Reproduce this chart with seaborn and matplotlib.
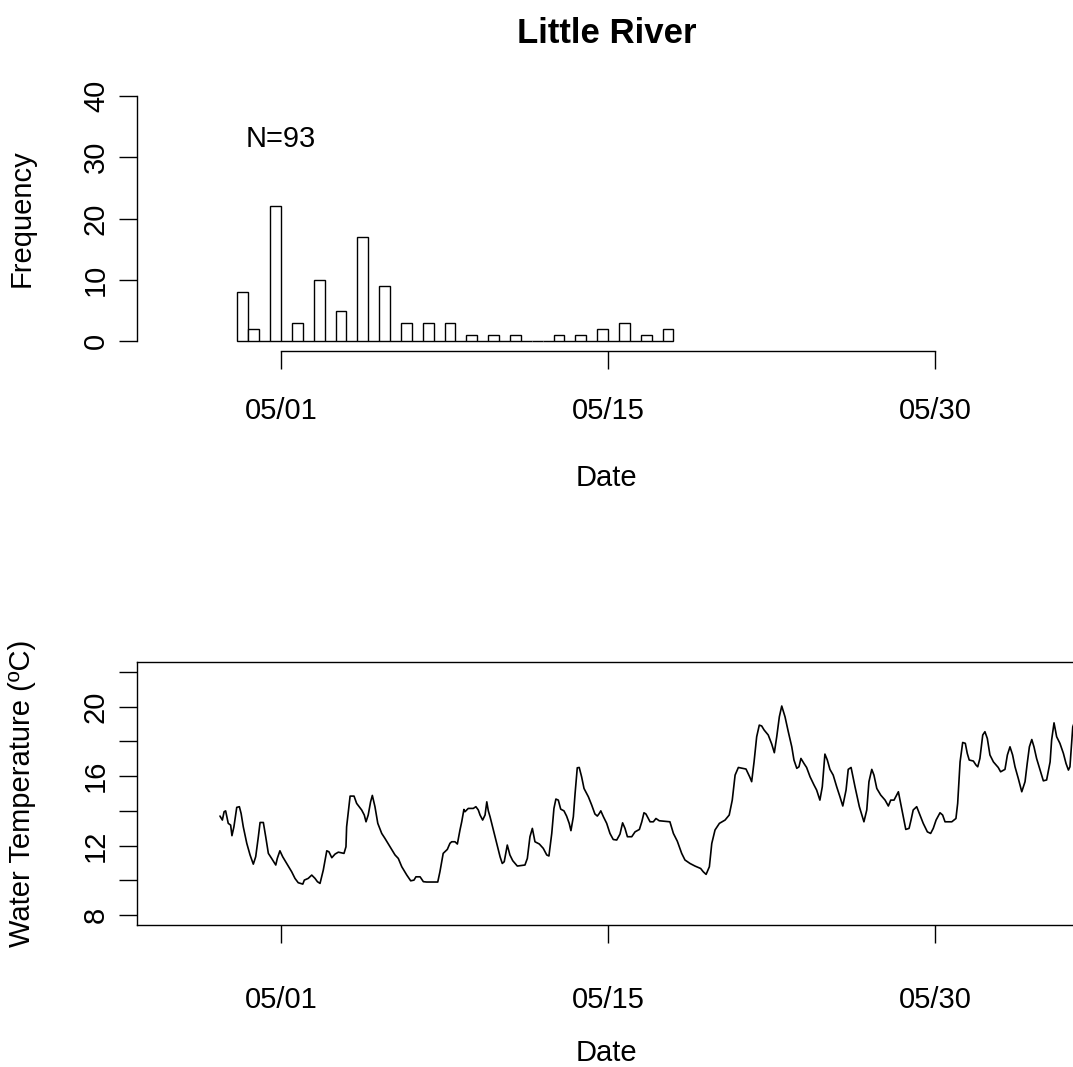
import numpy as np
import pandas as pd
import matplotlib
matplotlib.use('Agg')
import matplotlib.pyplot as plt
import seaborn as sns

# histogram counts per half-day bin, first bin starts 2 days before 05/01
hist_counts = [8, 2, 0, 22, 0, 3, 0, 10, 0, 5, 0, 17, 0, 9, 0, 3, 0, 3, 0, 3,
               0, 1, 0, 1, 0, 1, 0, 0, 0, 1, 0, 1, 0, 2, 0, 3, 0, 1, 0, 2]
hist_start = -2.0
bin_width = 0.5
n_label = 'N=93'

# date axis (days since 05/01)
tick_days = [0, 15, 30]
tick_labels = ['05/01', '05/15', '05/30']

# water temperature trace
day = [-2.80, -2.69, -2.61, -2.54, -2.42, -2.31, -2.25, -2.16, -2.03, -1.91,
       -1.83, -1.73, -1.57, -1.42, -1.27, -1.16, -1.04, -0.96, -0.81, -0.70,
       -0.58, -0.43, -0.24, -0.17, -0.05, 0.08, 0.26, 0.49, 0.64, 0.79,
       1.00, 1.07, 1.25, 1.41, 1.56, 1.67, 1.79, 1.94, 2.10, 2.20,
       2.33, 2.48, 2.63, 2.78, 2.89, 2.98, 3.01, 3.17, 3.35, 3.47,
       3.70, 3.82, 3.90, 4.00, 4.11, 4.19, 4.31, 4.44, 4.62, 4.77,
       5.00, 5.23, 5.38, 5.54, 5.77, 5.95, 6.10, 6.19, 6.38, 6.53,
       6.68, 7.19, 7.29, 7.44, 7.63, 7.75, 7.83, 7.98, 8.09, 8.21,
       8.29, 8.39, 8.44, 8.59, 8.82, 8.94, 9.05, 9.13, 9.25, 9.36,
       9.44, 9.51, 9.59, 9.74, 9.89, 10.05, 10.15, 10.24, 10.38, 10.50,
       10.63, 10.84, 11.19, 11.30, 11.42, 11.53, 11.65, 11.85, 12.03, 12.19,
       12.29, 12.42, 12.52, 12.61, 12.72, 12.83, 12.98, 13.10, 13.22, 13.30,
       13.41, 13.49, 13.59, 13.68, 13.79, 13.90, 14.10, 14.25, 14.40, 14.51,
       14.60, 14.67, 14.79, 14.94, 15.09, 15.24, 15.40, 15.55, 15.67, 15.78,
       15.89, 16.09, 16.24, 16.44, 16.55, 16.65, 16.74, 16.93, 17.08, 17.20,
       17.35, 17.84, 18.00, 18.18, 18.38, 18.53, 18.76, 18.99, 19.25, 19.37,
       19.50, 19.65, 19.76, 19.91, 20.11, 20.37, 20.56, 20.70, 20.83, 20.98,
       21.33, 21.51, 21.59, 21.70, 21.82, 21.94, 22.05, 22.16, 22.35, 22.51,
       22.63, 22.74, 22.86, 22.97, 23.12, 23.27, 23.43, 23.53, 23.66, 23.76,
       23.85, 23.99, 24.11, 24.27, 24.45, 24.57, 24.72, 24.83, 24.95, 25.06,
       25.18, 25.33, 25.49, 25.64, 25.77, 25.92, 26.02, 26.15, 26.33, 26.53,
       26.74, 26.87, 26.97, 27.10, 27.20, 27.33, 27.51, 27.71, 27.86, 27.97,
       28.12, 28.32, 28.44, 28.55, 28.66, 28.81, 28.90, 29.00, 29.16, 29.31,
       29.46, 29.65, 29.80, 29.92, 30.05, 30.23, 30.35, 30.46, 30.77, 30.96,
       31.04, 31.15, 31.27, 31.39, 31.48, 31.57, 31.76, 31.88, 31.96, 32.06,
       32.19, 32.29, 32.40, 32.52, 32.68, 32.90, 33.01, 33.21, 33.32, 33.44,
       33.56, 33.67, 33.82, 33.98, 34.13, 34.23, 34.33, 34.44, 34.54, 34.66,
       34.82, 34.97, 35.12, 35.28, 35.35, 35.46, 35.58, 35.73, 35.89, 36.01,
       36.12, 36.19, 36.32, 36.45]
temp = [13.70, 13.47, 13.95, 14.00, 13.28, 13.18, 12.57, 13.08, 14.20, 14.24,
        13.85, 13.08, 12.13, 11.46, 10.93, 11.36, 12.50, 13.33, 13.33, 12.50,
        11.55, 11.26, 10.88, 11.26, 11.70, 11.35, 10.97, 10.49, 10.11, 9.86,
        9.78, 10.01, 10.11, 10.30, 10.11, 9.92, 9.82, 10.59, 11.70, 11.64,
        11.30, 11.51, 11.62, 11.58, 11.55, 11.93, 13.08, 14.85, 14.85, 14.43,
        14.05, 13.76, 13.37, 13.76, 14.52, 14.89, 14.24, 13.28, 12.70, 12.41,
        11.93, 11.46, 11.26, 10.78, 10.30, 9.97, 10.01, 10.20, 10.20, 9.92,
        9.90, 9.90, 10.49, 11.55, 11.78, 12.13, 12.22, 12.22, 12.09, 12.90,
        13.37, 14.08, 13.95, 14.14, 14.14, 14.24, 14.05, 13.76, 13.47, 13.76,
        14.52, 14.00, 13.66, 12.90, 12.12, 11.35, 10.97, 11.07, 12.03, 11.46,
        11.13, 10.82, 10.88, 11.26, 12.51, 12.99, 12.22, 12.09, 11.84, 11.46,
        11.40, 12.70, 14.14, 14.68, 14.62, 14.10, 14.00, 13.70, 13.28, 12.86,
        13.66, 15.00, 16.48, 16.50, 15.96, 15.29, 14.81, 14.34, 13.82, 13.70,
        13.85, 14.00, 13.66, 13.28, 12.70, 12.35, 12.32, 12.66, 13.31, 12.99,
        12.51, 12.51, 12.79, 12.93, 13.37, 13.89, 13.82, 13.37, 13.37, 13.56,
        13.43, 13.37, 12.70, 12.25, 11.55, 11.17, 10.97, 10.82, 10.68, 10.49,
        10.34, 10.78, 12.12, 12.90, 13.28, 13.47, 13.76, 14.62, 16.06, 16.50,
        16.41, 15.93, 15.68, 16.82, 18.27, 18.94, 18.89, 18.66, 18.37, 17.85,
        17.35, 18.27, 19.42, 20.04, 19.42, 18.56, 17.69, 16.93, 16.45, 16.54,
        17.02, 16.73, 16.50, 15.96, 15.49, 15.20, 14.62, 15.39, 17.27, 16.93,
        16.39, 16.06, 15.39, 14.81, 14.28, 15.20, 16.39, 16.50, 15.39, 14.24,
        13.37, 14.05, 15.68, 16.39, 16.06, 15.29, 14.91, 14.62, 14.28, 14.62,
        14.62, 15.10, 14.34, 13.66, 12.93, 12.99, 13.47, 14.05, 14.24, 13.76,
        13.28, 12.79, 12.70, 12.99, 13.47, 13.89, 13.76, 13.37, 13.37, 13.56,
        14.43, 16.82, 17.94, 17.89, 17.31, 16.93, 16.87, 16.64, 16.54, 17.02,
        18.37, 18.56, 18.17, 17.22, 16.82, 16.50, 16.25, 16.39, 17.22, 17.69,
        17.22, 16.54, 15.87, 15.10, 15.68, 16.73, 17.69, 18.11, 17.69, 17.02,
        16.35, 15.73, 15.78, 16.82, 18.08, 19.07, 18.27, 17.89, 17.31, 16.73,
        16.35, 16.54, 18.84, 19.30]

temp_ticks = [8, 10, 12, 14, 16, 18, 20, 22]
temp_labels = ['8', '', '12', '', '16', '', '20', '']
freq_ticks = [0, 10, 20, 30, 40]

sns.set_style('ticks', {'axes.edgecolor': 'black', 'xtick.color': 'black',
                        'ytick.color': 'black', 'text.color': 'black',
                        'axes.labelcolor': 'black'})
plt.rcParams['font.family'] = ['Liberation Sans', 'DejaVu Sans']

W, H = 1073, 1067
fig = plt.figure(figsize=(W / 100, H / 100), dpi=100)
left, right = 137, 1076
ax1 = fig.add_axes([left / W, 1 - 351 / H, (right - left) / W, 265 / H])
ax2 = fig.add_axes([left / W, 1 - 925 / H, (right - left) / W, 263 / H])

xlim = ((left - 281) / 21.8, (right - 281) / 21.8)

# top: histogram (one observation per count, placed at its bin centre)
n_bins = len(hist_counts)
mids = hist_start + bin_width * (np.arange(n_bins) + 0.5)
obs = pd.DataFrame({'day': np.repeat(mids, hist_counts)})
sns.histplot(data=obs, x='day', binwidth=bin_width,
             binrange=(hist_start, hist_start + bin_width * n_bins),
             color='white', edgecolor='black', linewidth=1.0, alpha=1, ax=ax1)
ax1.set_xlim(xlim)
ax1.set_ylim(-1.6, 41.6)
ax1.spines['top'].set_visible(False)
ax1.spines['right'].set_visible(False)
ax1.spines['left'].set_bounds(0, 40)
ax1.spines['bottom'].set_bounds(0, 30)
ax1.set_xticks(tick_days, tick_labels)
ax1.set_yticks(freq_ticks, [str(v) for v in freq_ticks])
ax1.text(0, 33, n_label, ha='center', va='center', fontsize=21)
ax1.set_title('Little River', fontsize=25, fontweight='bold', pad=31)

# bottom: water temperature
temp_df = pd.DataFrame({'day': day, 'temp': temp})
sns.lineplot(data=temp_df, x='day', y='temp', color='black', linewidth=1.2,
             estimator=None, sort=False, ax=ax2)
ax2.set_xlim(xlim)
ax2.set_ylim(7.424, 22.576)
ax2.set_xticks(tick_days, tick_labels)
ax2.set_yticks(temp_ticks, temp_labels)

for ax in (ax1, ax2):
    for s in ax.spines.values():
        s.set_linewidth(1.0)
    ax.tick_params(direction='out', length=13, width=1.0, labelsize=21)
    ax.tick_params(axis='y', pad=6.5, labelrotation=90)
    plt.setp(ax.get_yticklabels(), va='center')

ax1.tick_params(axis='x', pad=20)
ax2.tick_params(axis='x', pad=31)

ax1.set_ylabel('Frequency', fontsize=21, va='center')
ax1.yaxis.set_label_coords((22 - left) / (right - left), 0.5)
ax1.set_xlabel('Date', fontsize=21, va='center')
ax1.xaxis.set_label_coords(0.5, (351 - 478) / 265)

ax2.set_ylabel('Water Temperature (ºC)', fontsize=21, va='center')
ax2.yaxis.set_label_coords((22 - left) / (right - left), 0.5)
ax2.set_xlabel('Date', fontsize=21, va='center')
ax2.xaxis.set_label_coords(0.5, (925 - 1053) / 263)

fig.savefig('out.png', dpi=100)
